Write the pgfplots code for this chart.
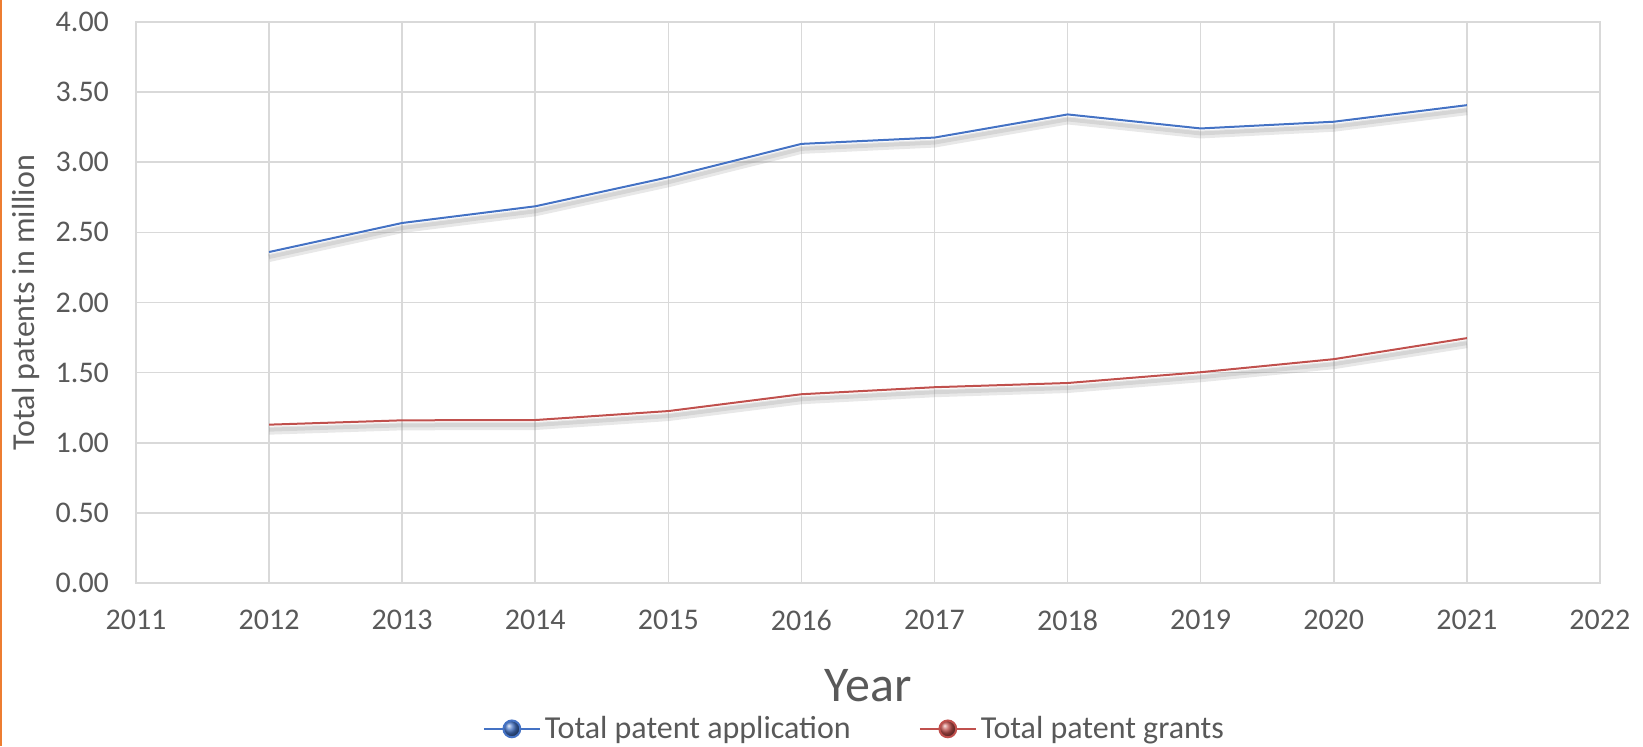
\documentclass[border=0pt]{standalone}
\usepackage{fontspec}
\setmainfont{Carlito}
\usepackage{pgfplots}
\pgfplotsset{compat=1.18}
\definecolor{txt}{HTML}{595959}
\definecolor{gridc}{HTML}{D9D9D9}
\definecolor{blueline}{HTML}{4472C4}
\definecolor{redline}{HTML}{C0504D}
\definecolor{orangeb}{HTML}{ED7D31}

\pgfplotstableread{
year app grants
2012 2.360 1.129
2013 2.567 1.160
2014 2.686 1.162
2015 2.893 1.226
2016 3.131 1.346
2017 3.176 1.396
2018 3.341 1.426
2019 3.241 1.503
2020 3.289 1.596
2021 3.407 1.746
}\datatable

\begin{document}
\begin{tikzpicture}
\begin{axis}[
  at={(0,0)}, anchor=south west,
  scale only axis, width=732pt, height=280.5pt,
  xmin=2011, xmax=2022, ymin=0, ymax=4,
  xtick={2011,2012,...,2022}, ytick={0,0.5,...,4},
  grid=major, major grid style={gridc, line width=0.8pt},
  axis line style={gridc, line width=0.8pt},
  tick style={draw=none},
  /pgf/number format/assume math mode=true,
  x tick label style={/pgf/number format/1000 sep={}, font=\fontsize{15}{18}\selectfont, text=txt, yshift=-10pt},
  y tick label style={/pgf/number format/.cd, fixed, fixed zerofill, precision=2, /tikz/.cd, font=\fontsize{15}{18}\selectfont, text=txt, xshift=-10pt},
  xlabel={Year},
  xlabel style={at={(axis description cs:0.5,-0.1836)}, anchor=center, font=\fontsize{25}{30}\selectfont, text=txt},
  ylabel={Total patents in million},
  ylabel style={at={(axis description cs:-0.0751,0.5)}, anchor=center, font=\fontsize{16}{19}\selectfont, text=txt},
  legend style={draw=none, fill=none, legend columns=2, at={(axis description cs:0.4914,-0.2600)}, anchor=center,
    font=\fontsize{16}{19}\selectfont, text=txt,
    /tikz/every even column/.append style={column sep=32pt}},
  legend cell align=left,
]
\addplot[gray, opacity=0.18, line width=4pt, yshift=-3pt, forget plot] table[x=year, y=app] {\datatable};
\addplot[gray, opacity=0.18, line width=2pt, yshift=-2.5pt, forget plot] table[x=year, y=app] {\datatable};
\addplot[gray, opacity=0.18, line width=4pt, yshift=-3pt, forget plot] table[x=year, y=grants] {\datatable};
\addplot[gray, opacity=0.18, line width=2pt, yshift=-2.5pt, forget plot] table[x=year, y=grants] {\datatable};
\addplot[blueline, line width=1pt, no markers,
  legend image code/.code={\draw[blueline, line width=1pt] (0pt,0pt) -- (28pt,0pt); \shade[ball color=blueline] (14pt,0pt) circle (4.2pt);}]
  table[x=year, y=app] {\datatable};
\addlegendentry{Total patent application}
\addplot[redline, line width=1pt, no markers,
  legend image code/.code={\draw[redline, line width=1pt] (0pt,0pt) -- (28pt,0pt); \shade[ball color=redline] (14pt,0pt) circle (4.2pt);}]
  table[x=year, y=grants] {\datatable};
\addlegendentry{Total patent grants}
\end{axis}
\draw[orangeb, line width=1pt] (-67.5pt,-81.5pt) -- (-67.5pt,291.5pt);
\pgfresetboundingbox
\path (-68pt,-81.5pt) rectangle (753.5pt,291.5pt);
\end{tikzpicture}
\end{document}
